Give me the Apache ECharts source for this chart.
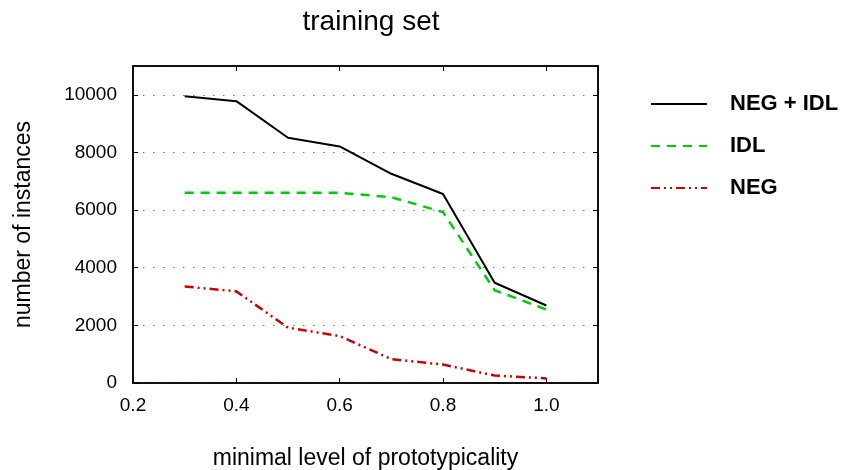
<!DOCTYPE html>
<html>
<head>
<meta charset="utf-8">
<script src="https://cdn.jsdelivr.net/npm/echarts@6/dist/echarts.min.js"></script>
<style>
  html, body { margin: 0; padding: 0; background: #fff; }
  #chart { width: 841px; height: 470px; }
</style>
</head>
<body>
<div id="chart"></div>
<script>
// data
const levels = [0.3, 0.4, 0.5, 0.6, 0.7, 0.8, 0.9, 1.0]
const negIdl = [9950, 9780, 8510, 8210, 7260, 6560, 3480, 2690]
const idl = [6600, 6600, 6600, 6600, 6450, 5930, 3220, 2550]
const neg = [3350, 3180, 1920, 1630, 830, 640, 260, 160]
const seriesNames = ['NEG + IDL', 'IDL', 'NEG']

const font = 'Liberation Sans, Arial, sans-serif'
const toPairs = arr => arr.map((v, i) => [levels[i], v])

const chart = echarts.init(document.getElementById('chart'))

const option = {
    animation: false,
    backgroundColor: '#fff',
    title: {
        text: 'training set',
        left: 366,
        top: 3,
        textAlign: 'center',
        textStyle: { fontFamily: font, fontSize: 28, fontWeight: 'normal', color: '#000' }
    },
    legend: {
        orient: 'vertical',
        left: 645,
        top: 88,
        itemWidth: 56,
        itemHeight: 12,
        itemGap: 20,
        itemStyle: { opacity: 0 },
        textStyle: { fontFamily: font, fontSize: 22, fontWeight: 'bold', color: '#000', padding: [0, 0, 0, 18] },
        data: seriesNames
    },
    grid: {
        left: 133,
        right: 243,
        top: 66,
        bottom: 87,
        outerBoundsMode: 'none',
        show: true,
        borderColor: '#000',
        borderWidth: 1.5
    },
    xAxis: [{
        type: 'value',
        min: 0.2,
        max: 1.1,
        interval: 0.2,
        name: 'minimal level of prototypicality',
        nameLocation: 'middle',
        nameGap: 64,
        nameTextStyle: { fontFamily: font, fontSize: 23, color: '#000' },
        axisLine: { show: true, onZero: false, lineStyle: { color: '#000', width: 1.5 } },
        axisTick: { inside: true, length: 5, lineStyle: { color: '#000' } },
        axisLabel: {
            fontFamily: font, fontSize: 19, color: '#000', margin: 13,
            showMaxLabel: false,
            formatter: v => v.toFixed(1)
        },
        splitLine: { show: false }
    }, {
        type: 'value',
        position: 'top',
        min: 0.2,
        max: 1.1,
        interval: 0.2,
        axisLine: { show: true, onZero: false, lineStyle: { color: '#000', width: 1.5 } },
        axisTick: { inside: true, length: 5, lineStyle: { color: '#000' } },
        axisLabel: { show: false },
        splitLine: { show: false }
    }],
    yAxis: [{
        type: 'value',
        min: 0,
        max: 11000,
        interval: 2000,
        name: 'number of instances',
        nameLocation: 'middle',
        nameGap: 98,
        nameTextStyle: { fontFamily: font, fontSize: 23, color: '#000' },
        axisLine: { show: true, onZero: false, lineStyle: { color: '#000', width: 1.5 } },
        axisTick: { inside: true, length: 5, lineStyle: { color: '#000' } },
        axisLabel: {
            fontFamily: font, fontSize: 19, color: '#000', margin: 16,
            showMaxLabel: false,
            formatter: v => String(v)
        },
        splitLine: { show: true, lineStyle: { color: '#777', type: [1.5, 8.5], width: 1.2 } }
    }, {
        type: 'value',
        position: 'right',
        min: 0,
        max: 11000,
        interval: 2000,
        axisLine: { show: true, onZero: false, lineStyle: { color: '#000', width: 1.5 } },
        axisTick: { inside: true, length: 5, lineStyle: { color: '#000' } },
        axisLabel: { show: false },
        splitLine: { show: false }
    }],
    series: [{
        name: seriesNames[0],
        type: 'line',
        data: toPairs(negIdl),
        symbol: 'none',
        color: '#000',
        lineStyle: { color: '#000', width: 2 }
    }, {
        name: seriesNames[1],
        type: 'line',
        data: toPairs(idl),
        symbol: 'none',
        color: '#00cc00',
        lineStyle: { color: '#00cc00', width: 2.5, type: [9, 7] }
    }, {
        name: seriesNames[2],
        type: 'line',
        data: toPairs(neg),
        symbol: 'none',
        color: '#cc0000',
        lineStyle: { color: '#cc0000', width: 2.5, type: [9, 4, 2, 4, 2, 4] }
    }]
}
chart.setOption(option)
</script>
</body>
</html>
